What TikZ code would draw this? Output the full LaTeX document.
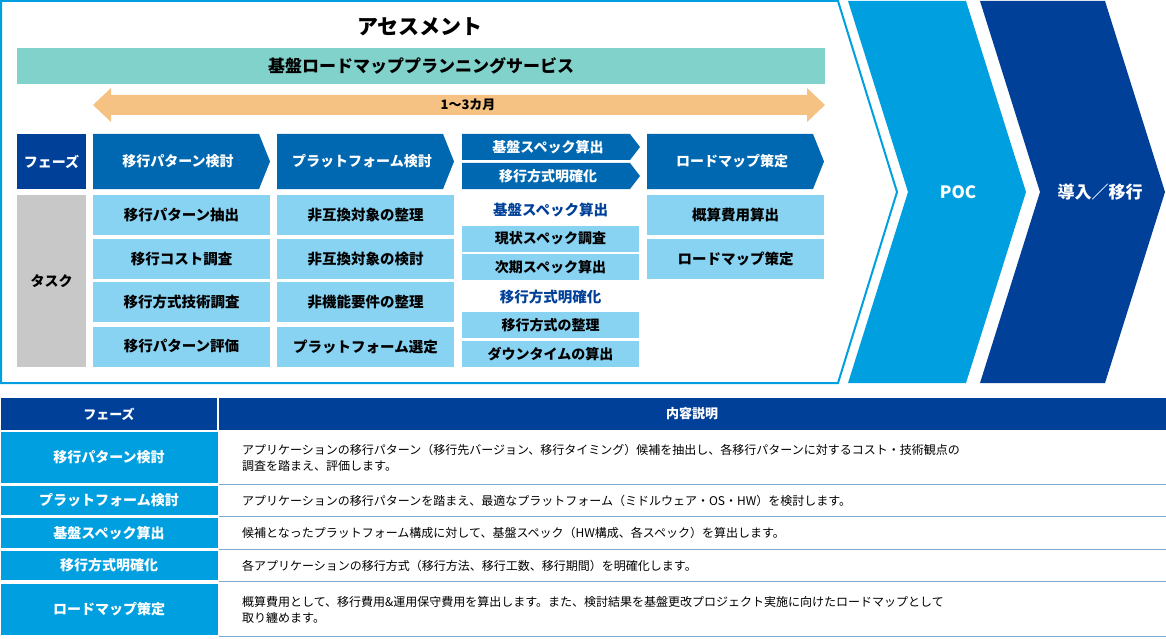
\documentclass[tikz,border=0pt]{standalone}
\usepackage{fontspec}
\setmainfont{Noto Sans CJK JP}
\usepackage{tikz}
\usetikzlibrary{positioning,calc}
\definecolor{cyanb}{HTML}{00A0E0}
\definecolor{navyb}{HTML}{004098}
\definecolor{midb}{HTML}{0068B0}
\definecolor{lightb}{HTML}{88D2F2}
\definecolor{tealbar}{HTML}{82D2CC}
\definecolor{orangebar}{HTML}{F6C283}
\definecolor{grayb}{HTML}{C8C8C8}
\definecolor{rulec}{HTML}{7FA8CC}
\tikzset{
  phasetext/.style={font=\bfseries\fontsize{14}{16}\selectfont, text=white},
  taskbox/.style={fill=lightb, minimum width=177pt, minimum height=40pt, inner sep=0pt,
    font=\bfseries\fontsize{14.5}{16}\selectfont},
  smallbox/.style={fill=lightb, minimum width=177pt, minimum height=26pt, inner sep=0pt,
    font=\bfseries\fontsize{14}{16}\selectfont},
  subhead/.style={text=navyb, font=\bfseries\fontsize{14.5}{16}\selectfont},
  lefthead/.style={fill=cyanb, text=white, minimum width=217pt, inner sep=0pt,
    font=\bfseries\fontsize{14}{16}\selectfont},
  desc/.style={anchor=west, align=left, inner sep=0pt, font=\fontsize{12}{16}\selectfont}
}
\begin{document}
\begin{tikzpicture}[x=1pt,y=-1pt]
  \useasboundingbox (0,0) rectangle (1166,639);
  % upper band
  \draw[cyanb, line width=2pt] (1,1)--(838,1)--(897,192)--(838,383)--(1,383)--cycle;
  \fill[cyanb] (848,1)--(966,1)--(1026,192)--(966,383)--(848,383)--(908,192)--cycle;
  \fill[navyb] (980,1)--(1105,1)--(1165,192)--(1105,383)--(980,383)--(1040,192)--cycle;
  \node[text=white, font=\bfseries\fontsize{17}{20}\selectfont] (poc) at (958,192) {POC};
  \node[text=white, font=\bfseries\fontsize{17}{20}\selectfont] (intro) at (1100,192) {導入／移行};
  \node[font=\bfseries\fontsize{21}{24}\selectfont] (title) at (420,27) {アセスメント};
  \node[fill=tealbar, minimum width=808pt, minimum height=36pt, inner sep=0pt,
    font=\bfseries\fontsize{17}{20}\selectfont] (service) at (421,66) {基盤ロードマッププランニングサービス};
  \fill[orangebar] (93,105)--(111,88)--(111,95)--(807,95)--(807,88)--(825,105)--(807,122)--(807,115)--(111,115)--(111,122)--cycle;
  \node[font=\bfseries\fontsize{13}{15}\selectfont] (term) at (468,105) {1〜3カ月};
  % phase row
  \node[fill=navyb, minimum width=69pt, minimum height=55pt, inner sep=0pt, phasetext] (phase) at (51.5,161.5) {フェーズ};
  \foreach \x/\t in {93/移行パターン検討, 277/プラットフォーム検討, 647/ロードマップ策定} {
    \fill[midb] (\x,134)--(\x+166,134)--(\x+177,161.5)--(\x+166,189)--(\x,189)--cycle;
    \node[phasetext] at (\x+85,161.5) {\t};
  }
  \fill[midb] (462,134)--(630,134)--(640,147)--(630,160)--(462,160)--cycle;
  \fill[midb] (462,163)--(630,163)--(640,176)--(630,189)--(462,189)--cycle;
  \node[phasetext] (ph3a) at (548,147) {基盤スペック算出};
  \node[phasetext] (ph3b) at (548,176) {移行方式明確化};
  % task rows
  \node[fill=grayb, minimum width=69pt, minimum height=172pt, inner sep=0pt,
    font=\bfseries\fontsize{14}{16}\selectfont] (task) at (51.5,281) {タスク};
  \node[taskbox] (t11) at (181.5,215) {移行パターン抽出};
  \node[taskbox] (t12) at (181.5,259) {移行コスト調査};
  \node[taskbox] (t13) at (181.5,302) {移行方式技術調査};
  \node[taskbox] (t14) at (181.5,346.5) {移行パターン評価};
  \node[taskbox] (t21) at (365.5,215) {非互換対象の整理};
  \node[taskbox] (t22) at (365.5,259) {非互換対象の検討};
  \node[taskbox] (t23) at (365.5,302) {非機能要件の整理};
  \node[taskbox] (t24) at (365.5,346.5) {プラットフォーム選定};
  \node[subhead] (h31) at (550.5,210) {基盤スペック算出};
  \node[smallbox] (t31) at (550.5,238.5) {現状スペック調査};
  \node[smallbox] (t32) at (550.5,267) {次期スペック算出};
  \node[subhead] (h32) at (550.5,297) {移行方式明確化};
  \node[smallbox] (t33) at (550.5,325) {移行方式の整理};
  \node[smallbox] (t34) at (550.5,354) {ダウンタイムの算出};
  \node[taskbox] (t41) at (735.5,215) {概算費用算出};
  \node[taskbox] (t42) at (735.5,259) {ロードマップ策定};
  % table
  \fill[navyb] (1,398) rectangle (1166,430);
  \draw[white, line width=1.5pt] (218,398)--(218,430);
  \node[phasetext, font=\bfseries\fontsize{13}{15}\selectfont] (th1) at (109,414) {フェーズ};
  \node[phasetext, font=\bfseries\fontsize{13}{15}\selectfont] (th2) at (692,414) {内容説明};
  \foreach \ya/\yb/\t in {432/483/移行パターン検討, 486/515/プラットフォーム検討, 518/548/基盤スペック算出, 551/580/移行方式明確化, 584/635/ロードマップ策定} {
    \node[lefthead, minimum height=\yb-\ya] at (109,{(\ya+\yb)/2}) {\t};
    \draw[rulec, line width=1pt] (219,\yb+1.5)--(1166,\yb+1.5);
  }
  \node[desc] (d1) at (242,457.5) {アプリケーションの移行パターン（移行先バージョン、移行タイミング）候補を抽出し、各移行パターンに対するコスト・技術観点の\\調査を踏まえ、評価します。};
  \node[desc] (d2) at (242,500.5) {アプリケーションの移行パターンを踏まえ、最適なプラットフォーム（ミドルウェア・OS・HW）を検討します。};
  \node[desc] (d3) at (242,533) {候補となったプラットフォーム構成に対して、基盤スペック（HW構成、各スペック）を算出します。};
  \node[desc] (d4) at (242,565.5) {各アプリケーションの移行方式（移行方法、移行工数、移行期間）を明確化します。};
  \node[desc] (d5) at (242,609.5) {概算費用として、移行費用\&運用保守費用を算出します。また、検討結果を基盤更改プロジェクト実施に向けたロードマップとして\\取り纏めます。};
\end{tikzpicture}
\end{document}
